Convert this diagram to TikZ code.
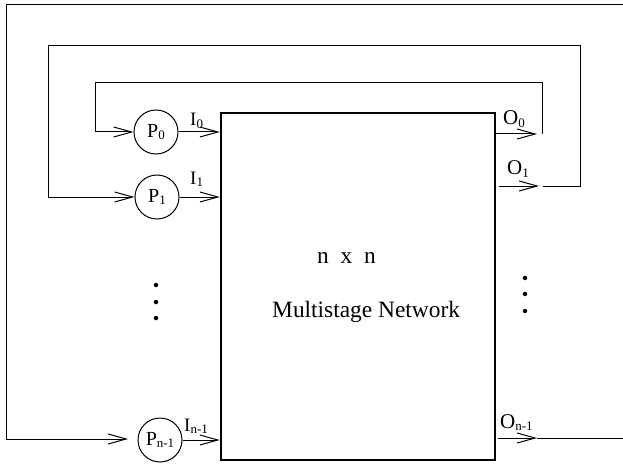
\documentclass[tikz,border=0pt]{standalone}
\usepackage{fontspec}
\setmainfont{Liberation Serif}
\usetikzlibrary{arrows.meta}
\newcommand{\sbs}[1]{{\fontsize{13}{13}\selectfont\raisebox{-2.5pt}{#1}}}
\begin{document}
\begin{tikzpicture}[x=1pt,y=-1pt,
  wire/.style={line width=1pt},
  arr/.style={wire,-{Straight Barb[length=18pt,width=10pt,line width=1pt]}},
  proc/.style={circle,draw,line width=1pt,minimum size=44pt,inner sep=0pt,font=\fontsize{20}{20}\selectfont},
  lbl/.style={inner sep=0pt,anchor=base west,font=\fontsize{19}{19}\selectfont},
  olbl/.style={lbl,font=\fontsize{21}{21}\selectfont},
  dotsty/.style={circle,fill,inner sep=0pt,minimum size=4.5pt},
  bigtext/.style={inner sep=0pt,anchor=base west,font=\fontsize{23.4}{23.4}\selectfont}]
\useasboundingbox (0,0) rectangle (623,465);
% network box
\node[draw,line width=2.5pt,minimum width=274pt,minimum height=347pt,inner sep=0pt] (net) at (358,286.5) {};
\node[bigtext] (nxn) at (317,263) {n\ \ x\ \ n};
\node[bigtext] (ms) at (272,317) {Multistage Network};
% processors
\node[proc] (p0) at (156,132) {P\sbs{0}};
\node[proc] (p1) at (157,197) {P\sbs{1}};
\node[proc] (pn) at (160,440) {P\sbs{n-1}};
% inputs
\draw[arr] (p0.east) -- (p0.east -| net.west);
\draw[arr] (p1.east) -- (p1.east -| net.west);
\draw[arr] (pn.east) -- (pn.east -| net.west);
\node[lbl] (i0) at (190,126) {I\sbs{0}};
\node[lbl] (i1) at (190,184) {I\sbs{1}};
\node[lbl] (in) at (184,431) {I\sbs{n-1}};
% outputs
\coordinate (o0s) at (495,134);
\coordinate (o0e) at (537,134);
\coordinate (o1s) at (499,186);
\coordinate (o1e) at (539,186);
\coordinate (ons) at (498,438);
\coordinate (one) at (537,438);
\coordinate (onf) at (623,438);
\draw[arr] (o0s) -- (o0e);
\draw[arr] (o1s) -- (o1e);
\draw[arr] (ons) -- (one);
\draw[wire] (one) -- (onf);
\node[olbl] (o0) at (503,125) {O\sbs{0}};
\node[olbl] (o1) at (507,175) {O\sbs{1}};
\node[olbl] (on) at (500,428) {O\sbs{n-1}};
% feedback loops
\coordinate (l3) at (542,134);
\draw[arr] (l3) -- (542,83) -- (95,83) -- (95,132) -- (p0.west);
\coordinate (l2) at (543,186);
\draw[arr] (l2) -- (580,186) -- (580,46) -- (48,46) -- (48,197) -- (p1.west);
\coordinate (l1) at (623,5);
\coordinate (l1e) at (128,439);
\draw[arr] (l1) -- (6,5) -- (6,439) -- (l1e);
% dots
\node[dotsty] (dl1) at (156,285) {};
\node[dotsty] (dl2) at (156,302) {};
\node[dotsty] (dl3) at (156,318) {};
\node[dotsty] (dr1) at (525,278) {};
\node[dotsty] (dr2) at (525,294) {};
\node[dotsty] (dr3) at (525,311) {};
\end{tikzpicture}
\end{document}
